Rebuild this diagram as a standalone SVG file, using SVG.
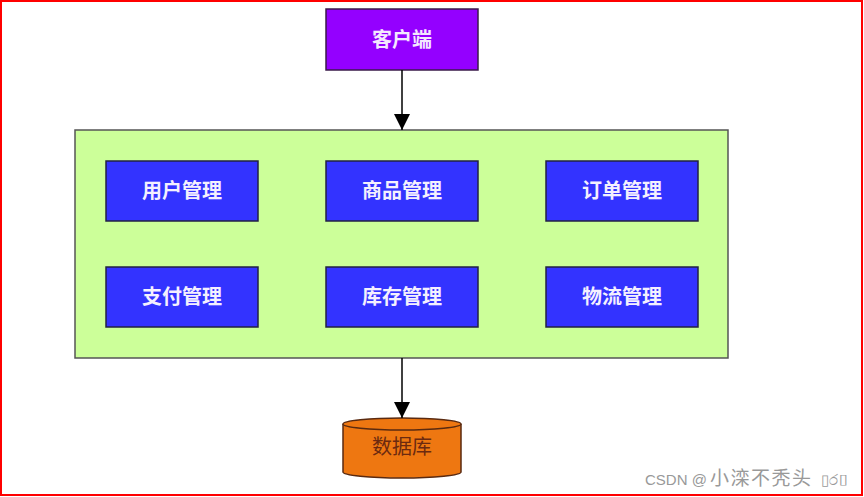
<svg xmlns="http://www.w3.org/2000/svg" width="864" height="497" viewBox="0 0 864 497">
<defs>
<style>
.mod rect{fill:#3333ff;stroke:#222244;stroke-width:1.5}
.mod text{fill:#f4f0ff;font-family:"Liberation Serif","Noto Sans CJK SC",serif;font-weight:bold;font-size:20px;text-anchor:middle}
.conn line{stroke:#000;stroke-width:1.5}
</style>
<marker id="arrB" viewBox="0 0 16 16" refX="16" refY="8" markerWidth="16" markerHeight="16" markerUnits="userSpaceOnUse" orient="auto">
<path d="M0,0 L16,8 L0,16 z" fill="#000"/>
</marker>
</defs>
<rect x="0" y="0" width="864" height="497" fill="#fff"/>
<rect x="1" y="1" width="861" height="494" fill="none" stroke="#ff0000" stroke-width="2"/>

<g id="client">
<rect x="326" y="9" width="152" height="61" fill="#9400ff" stroke="#3a1a4a" stroke-width="1.5"/>
<text x="402" y="47" fill="#f4e8ff" font-family="Liberation Serif, Noto Sans CJK SC, serif" font-weight="bold" font-size="20" text-anchor="middle">客户端</text>
</g>

<g id="server">
<rect x="75" y="130" width="653" height="228" fill="#ccff99" stroke="#555" stroke-width="1.5"/>
</g>

<g id="user" class="mod"><rect x="106" y="161" width="152" height="60"/><text x="182" y="198">用户管理</text></g>
<g id="product" class="mod"><rect x="326" y="161" width="152" height="60"/><text x="402" y="198">商品管理</text></g>
<g id="order" class="mod"><rect x="546" y="161" width="152" height="60"/><text x="622" y="198">订单管理</text></g>
<g id="pay" class="mod"><rect x="106" y="267" width="152" height="60"/><text x="182" y="304">支付管理</text></g>
<g id="stock" class="mod"><rect x="326" y="267" width="152" height="60"/><text x="402" y="304">库存管理</text></g>
<g id="logistics" class="mod"><rect x="546" y="267" width="152" height="60"/><text x="622" y="304">物流管理</text></g>

<g id="db">
<path d="M343,424 L343,472 A59,6 0 0 0 461,472 L461,424" fill="#ee7711" stroke="#5a2a10" stroke-width="1.5"/>
<ellipse cx="402" cy="424" rx="59" ry="6" fill="#ee7711" stroke="#5a2a10" stroke-width="1.5"/>
<text x="402" y="454" fill="#6b2a10" font-family="Liberation Serif, Noto Sans CJK SC, serif" font-size="20" text-anchor="middle">数据库</text>
</g>

<g id="connectors" class="conn">
<line x1="402" y1="70" x2="402" y2="130" marker-end="url(#arrB)"/>
<line x1="402" y1="358" x2="402" y2="418" marker-end="url(#arrB)"/>
</g>

<text x="645" y="485" fill="#999" font-family="Liberation Sans, Noto Sans CJK SC, sans-serif" font-size="15">CSDN @<tspan x="710" font-size="19" letter-spacing="1.5">小滦不秃头</tspan><tspan x="821" font-size="15">▯ර▯</tspan></text>
</svg>
